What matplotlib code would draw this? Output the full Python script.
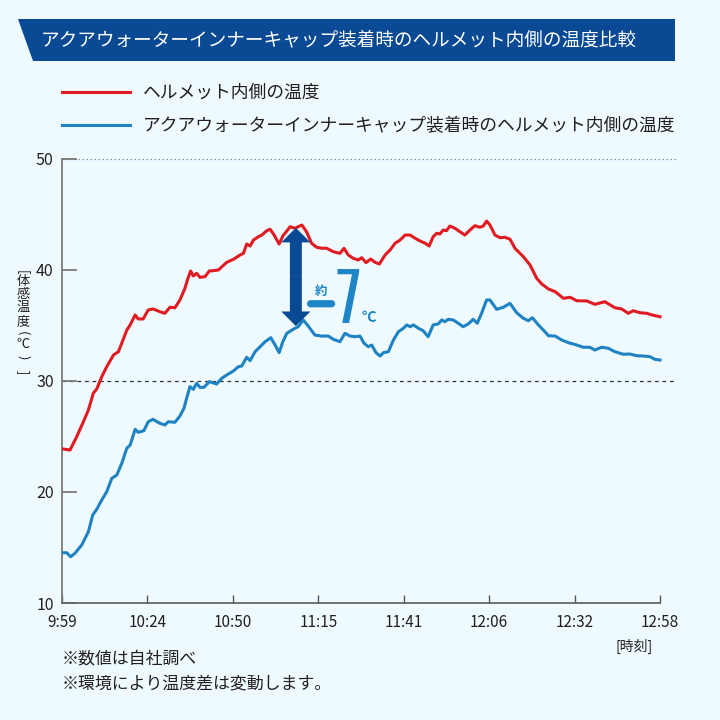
import matplotlib
matplotlib.use('Agg')
import matplotlib.pyplot as plt
from matplotlib.patches import Polygon, FancyArrowPatch
import numpy as np

plt.rcParams['font.family'] = ['Noto Sans CJK JP', 'DejaVu Sans']

# ---- data (minutes after 9:59, felt temperature in deg C) ----
red_t = [0.4,2.4,4.4,6.4,7.9,9.4,10.4,11.9,13.4,15.4,16.9,17.9,19.4,20.4,21.9,22.8,24.3,25.8,27.3,29.3,30.8,32.3,33.8,35.3,36.8,37.6,38.5,39.3,40.3,41.3,42.8,44.1,45.3,46.8,49.3,51.3,53.3,54.3,55.3,56.3,57.3,58.8,59.8,61.3,62.3,63.5,65.0,66.1,68.3,69.7,71.8,73.2,74.7,76.2,77.7,79.2,81.2,83.2,84.4,85.7,87.2,88.7,89.7,91.0,92.4,93.7,95.0,96.7,98.2,99.7,101.2,102.7,104.2,105.7,107.2,108.7,109.9,111.1,112.2,113.1,114.1,115.1,116.1,117.6,119.1,120.6,122.1,123.6,125.1,126.1,127.1,128.1,129.6,131.1,132.6,134.1,135.6,138.1,140.1,142.1,143.6,145.6,147.6,150.1,152.1,154.1,157.1,159.5,162.5,165.5,167.5,169.5,171.0,173.0,175.0,177.0,179.0]
red_v = [23.87,23.78,24.98,26.33,27.39,28.92,29.28,30.39,31.29,32.34,32.64,33.42,34.59,35.05,35.95,35.59,35.59,36.40,36.49,36.24,36.10,36.64,36.60,37.30,38.35,39.16,39.91,39.46,39.70,39.34,39.40,39.91,39.94,40.00,40.69,40.96,41.35,41.50,42.34,42.16,42.70,43.00,43.15,43.54,43.67,43.15,42.34,43.06,43.90,43.76,44.05,43.45,42.41,42.05,41.96,41.96,41.65,41.50,41.96,41.35,41.05,40.90,41.11,40.66,40.99,40.69,40.54,41.35,41.80,42.41,42.70,43.15,43.15,42.86,42.61,42.41,42.16,43.00,43.31,43.24,43.60,43.54,43.96,43.76,43.45,43.15,43.60,43.99,43.85,43.96,44.41,44.05,43.15,42.91,42.95,42.77,41.95,41.20,40.45,39.25,38.74,38.29,38.05,37.45,37.54,37.23,37.21,36.91,37.14,36.60,36.49,36.10,36.33,36.15,36.10,35.92,35.79]

blue_t = [0.4,1.4,2.6,3.9,5.9,7.9,9.2,10.4,11.9,13.4,14.9,16.4,17.9,19.4,20.4,21.9,22.8,24.5,25.8,27.2,29.3,30.8,31.8,33.8,35.3,36.5,37.3,38.3,39.3,40.3,41.3,42.5,44.1,46.3,47.8,49.3,51.3,52.8,53.8,55.3,56.3,57.8,59.3,60.8,62.5,63.8,65.0,66.1,67.3,69.2,70.7,72.2,73.7,75.7,77.7,79.7,81.2,83.2,84.7,86.2,87.7,89.2,90.4,91.7,92.7,94.0,95.2,96.2,97.7,99.2,100.7,102.2,103.2,104.2,105.2,106.7,108.1,109.6,111.1,112.6,113.7,114.6,115.6,117.1,118.6,120.1,121.6,123.1,124.3,125.6,127.1,128.1,130.1,132.1,134.1,136.1,138.1,139.6,140.8,142.6,144.1,145.6,147.6,149.6,151.6,154.1,156.0,158.0,159.5,161.5,163.5,165.5,168.0,170.0,172.0,174.0,176.0,177.5,179.0]
blue_v = [14.53,14.53,14.17,14.48,15.23,16.42,17.93,18.44,19.28,20.03,21.23,21.53,22.59,23.94,24.23,25.65,25.38,25.52,26.33,26.55,26.19,26.04,26.33,26.28,26.85,27.54,28.44,29.49,29.25,29.79,29.43,29.43,29.94,29.73,30.24,30.54,30.90,31.29,31.35,32.14,31.83,32.64,33.09,33.54,33.90,33.24,32.55,33.54,34.30,34.66,34.89,35.50,34.95,34.14,34.05,34.05,33.76,33.54,34.30,34.05,33.99,34.05,33.40,33.09,33.24,32.55,32.25,32.55,32.64,33.69,34.44,34.75,35.05,34.89,35.05,34.75,34.53,33.99,35.05,35.14,35.50,35.34,35.56,35.50,35.20,34.89,35.14,35.56,35.20,36.10,37.30,37.30,36.46,36.64,37.00,36.15,35.65,35.43,35.70,35.05,34.59,34.08,34.05,33.69,33.45,33.24,33.04,33.04,32.79,33.04,32.95,32.64,32.41,32.43,32.28,32.25,32.19,31.95,31.89]

x_tick_labels = ['9:59', '10:24', '10:50', '11:15', '11:41', '12:06', '12:32', '12:58']
y_ticks = [10, 20, 30, 40, 50]
series_labels = ['ヘルメット内側の温度', 'アクアウォーターインナーキャップ装着時のヘルメット内側の温度']
title = 'アクアウォーターインナーキャップ装着時のヘルメット内側の温度比較'
# vertical y-axis label: (character, rotate?)
y_label_chars = [('[', True), ('体', False), ('感', False), ('温', False), ('度', False),
                 ('(', True), ('℃', False), (')', True), (']', True)]

arrow_x = 70.0
arrow_top, arrow_bottom = 43.8, 34.95

BG = '#eefafe'
RED = '#e01b22'
BLUE = '#1f83c3'
NAVY = '#0a4a94'
TXTBLUE = '#1e86c6'
INK = '#231f20'

W, H = 720, 720
fig = plt.figure(figsize=(7.2, 7.2), dpi=100, facecolor=BG)

def fx(px):
    return px / W

def fy(py):
    return 1 - py / H

# title banner
banner = Polygon([(fx(18), fy(19)), (fx(675), fy(19)), (fx(675), fy(61)), (fx(33), fy(61))],
                 closed=True, transform=fig.transFigure, facecolor=NAVY, edgecolor='none')
fig.patches.append(banner)
fig.text(fx(41), fy(40), title, color='white', fontsize=13.4, ha='left', va='center')

ax = fig.add_axes([fx(62), fy(603), fx(677) - fx(62), fy(159) - fy(603)])
ax.set_facecolor(BG)

xmax_data = 179
ax.set_xlim(0, xmax_data * (677 - 62) / (660 - 62))
ax.set_ylim(10, 50)

ax.axhline(50, color='#8a8a8a', lw=0.9, ls=(0, (1.2, 2.0)), zorder=1)
ax.axhline(30, color='#333333', lw=0.9, ls=(0, (3.0, 3.0)), zorder=1)

l1, = ax.plot(red_t, red_v, color=RED, lw=2.2, zorder=3, label=series_labels[0])
l2, = ax.plot(blue_t, blue_v, color=BLUE, lw=2.2, zorder=3, label=series_labels[1])

for s in ['top', 'right']:
    ax.spines[s].set_visible(False)
ax.spines['left'].set_color('#7a7a7a')
ax.spines['left'].set_linewidth(1.3)
ax.spines['bottom'].set_color('#666666')
ax.spines['bottom'].set_linewidth(1.3)
ax.spines['bottom'].set_bounds(0, xmax_data)

ax.set_xticks(np.linspace(0, xmax_data, len(x_tick_labels)))
ax.set_xticklabels(x_tick_labels)
ax.set_yticks(y_ticks)
ax.set_yticklabels([str(v) for v in y_ticks])
ax.tick_params(axis='x', direction='in', length=6, width=1.0, color='#555555', pad=8,
               labelsize=11, labelcolor=INK)
ax.tick_params(axis='y', direction='in', length=11, width=1.3, color='#7a7a7a', pad=6,
               labelsize=11.5, labelcolor=INK)

# double arrow (approx. difference annotation)
mid = (arrow_top + arrow_bottom) / 2
for end in (arrow_top, arrow_bottom):
    ax.add_patch(FancyArrowPatch((arrow_x, mid), (arrow_x, end),
                                 arrowstyle='simple,head_width=21,head_length=10.5,tail_width=8.6',
                                 mutation_scale=1, shrinkA=0, shrinkB=0,
                                 color=NAVY, lw=0, zorder=5))

ax.text(77.4, 38.06, '約', color=TXTBLUE, fontsize=9, fontweight='bold', ha='center', va='center', zorder=6)
ax.annotate('', xy=(80.7, 36.96), xytext=(74.4, 36.96),
            arrowprops=dict(arrowstyle='-', lw=5.2, color=TXTBLUE, shrinkA=0, shrinkB=0), zorder=6)
ax.text(81.8, 35.25, '7', color=TXTBLUE, fontsize=48, fontweight='bold',
        family=['Oswald', 'Roboto Condensed', 'Asap Condensed', 'DejaVu Sans'],
        ha='left', va='baseline', zorder=6)
ax.text(89.6, 35.3, '℃', color=TXTBLUE, fontsize=10.5, fontweight='bold', ha='left', va='baseline', zorder=6)

# y label, written vertically
y_centers = [271.7, 282.0, 294.5, 307.8, 321.5, 333.0, 344.7, 357.5, 372.0]
for (ch, rot), yc in zip(y_label_chars, y_centers):
    fig.text(fx(23), fy(yc), ch, fontsize=9.5, color=INK, ha='center', va='center',
             rotation=-90 if rot else 0)

fig.text(fx(634), fy(646), '[時刻]', fontsize=10, color=INK, ha='center', va='center')
fig.text(fx(62), fy(658), '※数値は自社調べ', fontsize=12.2, color=INK, ha='left', va='center')
fig.text(fx(62), fy(684), '※環境により温度差は変動します。', fontsize=12.2, color=INK, ha='left', va='center')

leg = fig.legend(handles=[l1, l2], loc='upper left', bbox_to_anchor=(fx(62), fy(84)),
                 bbox_transform=fig.transFigure, frameon=False, fontsize=12.8,
                 handlelength=3.85, handletextpad=0.7, labelspacing=0.87, borderpad=0, borderaxespad=0)
for t in leg.get_texts():
    t.set_color(INK)

fig.savefig('out.png', dpi=100, facecolor=BG)
